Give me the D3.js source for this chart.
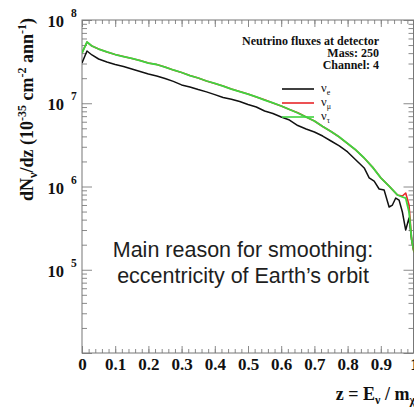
<!DOCTYPE html>
<html>
<head>
<meta charset="utf-8">
<script src="https://cdn.jsdelivr.net/npm/d3@7/dist/d3.min.js"></script>
<style>
  body { margin: 0; background: #fff; }
  svg { display: block; }
  .serif { font-family: "Liberation Serif", "DejaVu Serif", serif; font-weight: bold; fill: #111; }
</style>
</head>
<body>
<svg id="chart" width="414" height="408"></svg>
<script>
// nu_e (black)
const zNuE = [0, 0.015, 0.03, 0.05, 0.075, 0.1, 0.125, 0.15, 0.175, 0.2, 0.225, 0.25, 0.275, 0.3,
  0.325, 0.35, 0.375, 0.4, 0.425, 0.45, 0.475, 0.5, 0.525, 0.55, 0.575, 0.6, 0.625, 0.65, 0.675,
  0.7, 0.725, 0.75, 0.775, 0.8, 0.825, 0.85, 0.865, 0.88, 0.895, 0.91, 0.925, 0.935, 0.945, 0.955,
  0.965, 0.975, 0.985, 0.993, 1.0]
const fluxNuE = [3.04e7, 4.24e7, 3.80e7, 3.40e7, 3.13e7, 2.92e7, 2.76e7, 2.58e7, 2.41e7, 2.25e7,
  2.12e7, 1.98e7, 1.83e7, 1.66e7, 1.57e7, 1.46e7, 1.37e7, 1.27e7, 1.17e7, 1.12e7, 1.05e7, 9.66e6,
  9.02e6, 8.07e6, 7.53e6, 6.83e6, 6.29e6, 5.40e6, 4.91e6, 4.52e6, 4.04e6, 3.52e6, 3.07e6, 2.60e6,
  2.08e6, 1.67e6, 1.27e6, 1.16e6, 9.33e5, 9.08e5, 5.67e5, 5.99e5, 7.27e5, 6.88e5, 4.94e5, 3.00e5,
  4.18e5, 2.28e5, 1.63e5]

// nu_mu (red) and nu_tau (green) share the same z points
const zNuMuTau = [0, 0.015, 0.03, 0.05, 0.075, 0.1, 0.125, 0.15, 0.175, 0.2, 0.225, 0.25, 0.275,
  0.3, 0.325, 0.35, 0.375, 0.4, 0.425, 0.45, 0.475, 0.5, 0.525, 0.55, 0.575, 0.6, 0.625, 0.65,
  0.675, 0.7, 0.725, 0.75, 0.775, 0.8, 0.825, 0.85, 0.875, 0.9, 0.925, 0.95, 0.965, 0.975, 0.985,
  0.993, 1.0]
const fluxNuMu = [4.01e7, 5.44e7, 4.87e7, 4.48e7, 4.13e7, 3.85e7, 3.64e7, 3.45e7, 3.26e7, 3.04e7,
  2.92e7, 2.72e7, 2.51e7, 2.34e7, 2.15e7, 2.01e7, 1.85e7, 1.73e7, 1.61e7, 1.48e7, 1.38e7, 1.29e7,
  1.19e7, 1.10e7, 1.01e7, 9.27e6, 8.41e6, 7.70e6, 6.83e6, 6.12e6, 5.26e6, 4.58e6, 3.93e6, 3.28e6,
  2.74e6, 2.20e6, 1.71e6, 1.27e6, 1.01e6, 7.91e5, 7.69e5, 8.35e5, 5.99e5, 2.28e5, 1.63e5]
const fluxNuTau = [4.01e7, 5.44e7, 4.87e7, 4.48e7, 4.13e7, 3.85e7, 3.64e7, 3.45e7, 3.26e7, 3.04e7,
  2.92e7, 2.72e7, 2.51e7, 2.34e7, 2.15e7, 2.01e7, 1.85e7, 1.73e7, 1.61e7, 1.48e7, 1.38e7, 1.29e7,
  1.19e7, 1.09e7, 1.01e7, 9.27e6, 8.41e6, 7.64e6, 6.83e6, 6.12e6, 5.26e6, 4.58e6, 3.93e6, 3.28e6,
  2.74e6, 2.20e6, 1.71e6, 1.27e6, 1.01e6, 7.91e5, 7.48e5, 7.27e5, 4.94e5, 2.28e5, 1.63e5]

const xTicks = [0, 0.1, 0.2, 0.3, 0.4, 0.5, 0.6, 0.7, 0.8, 0.9, 1]
const yLabelExps = [5, 6, 7, 8]
const legendItems = [
  {label: "e", color: "#111"},
  {label: "μ", color: "#e8262a"},
  {label: "τ", color: "#3fd43f"}
]
const legendTitle = ["Neutrino fluxes at detector", "Mass: 250", "Channel: 4"]
const note = ["Main reason for smoothing:", "eccentricity of Earth\u2019s orbit"]

const svg = d3.select("#chart")
const mLeft = 82, mRight = 413.5, mTop = 20, mBottom = 353

const x = d3.scaleLinear().domain([0, 1]).range([mLeft, 414])
const y = d3.scaleLog().domain([1e4, 1e8]).range([mBottom, mTop])

// clip
svg.append("clipPath").attr("id", "plot")
  .append("rect").attr("x", mLeft).attr("y", mTop)
  .attr("width", mRight - mLeft).attr("height", mBottom - mTop)

// axes with inward ticks
const minorX = d3.range(0, 1.0001, 0.02)
const tickColor = "#8a8a8a"

function styleAxis(g) {
  g.select(".domain").remove()
  g.selectAll(".tick line").attr("stroke", tickColor)
}

svg.append("g").attr("transform", `translate(0,${mBottom})`)
  .call(d3.axisBottom(x).tickValues(minorX).tickSize(-4).tickFormat(""))
  .call(styleAxis)
svg.append("g").attr("transform", `translate(0,${mTop})`)
  .call(d3.axisTop(x).tickValues(minorX).tickSize(-4).tickFormat(""))
  .call(styleAxis)
svg.append("g").attr("transform", `translate(0,${mTop})`)
  .call(d3.axisTop(x).tickValues(xTicks).tickSize(-7).tickFormat(""))
  .call(styleAxis)

const xAxis = svg.append("g").attr("transform", `translate(0,${mBottom})`)
  .call(d3.axisBottom(x).tickValues(xTicks).tickSize(-7).tickPadding(5)
    .tickFormat(d => d === 0 || d === 1 ? String(d) : d.toFixed(1)))
  .call(styleAxis)
xAxis.selectAll(".tick text")
  .attr("class", "serif").attr("font-size", 17).attr("fill", "#111")

const yTicksAll = y.ticks()
const isMajor = d => Math.abs(Math.log10(d) - Math.round(Math.log10(d))) < 1e-9

svg.append("g").attr("transform", `translate(${mLeft},0)`)
  .call(d3.axisLeft(y).tickValues(yTicksAll).tickSize(-5).tickFormat(""))
  .call(styleAxis)
  .selectAll(".tick line").attr("x2", d => isMajor(d) ? 10 : 5)
svg.append("g").attr("transform", `translate(${mRight},0)`)
  .call(d3.axisRight(y).tickValues(yTicksAll).tickSize(-5).tickFormat(""))
  .call(styleAxis)
  .selectAll(".tick line").attr("x2", d => isMajor(d) ? -10 : -5)

// frame
svg.append("rect")
  .attr("x", mLeft).attr("y", mTop)
  .attr("width", mRight - mLeft).attr("height", mBottom - mTop)
  .attr("fill", "none").attr("stroke", "#777").attr("stroke-width", 1)

// y labels 10^n
svg.append("g").selectAll("text").data(yLabelExps).enter().append("text")
  .attr("class", "serif")
  .attr("x", 64).attr("y", d => y(Math.pow(10, d)) + 7)
  .attr("text-anchor", "end").attr("font-size", 16.5)
  .text("10")
svg.append("g").selectAll("text").data(yLabelExps).enter().append("text")
  .attr("class", "serif")
  .attr("x", 71).attr("y", d => y(Math.pow(10, d)) - 3)
  .attr("font-size", 11.5)
  .text(d => d)

// curves
const line = d3.line().x(d => x(d[0])).y(d => y(d[1]))
const plot = svg.append("g").attr("clip-path", "url(#plot)")
const series = [
  {z: zNuE, v: fluxNuE, color: legendItems[0].color, w: 1.5},
  {z: zNuMuTau, v: fluxNuMu, color: legendItems[1].color, w: 1.6},
  {z: zNuMuTau, v: fluxNuTau, color: legendItems[2].color, w: 1.8}
]
plot.selectAll("path").data(series).enter().append("path")
  .attr("d", s => line(d3.zip(s.z, s.v)))
  .attr("fill", "none")
  .attr("stroke", s => s.color)
  .attr("stroke-width", s => s.w)
  .attr("stroke-linejoin", "round")

// legend
svg.append("g").selectAll("text").data(legendTitle).enter().append("text")
  .attr("class", "serif")
  .attr("x", 379).attr("y", (d, i) => 45 + i * 12)
  .attr("text-anchor", "end").attr("font-size", 12)
  .text(d => d)

const leg = svg.append("g").selectAll("g").data(legendItems).enter().append("g")
  .attr("transform", (d, i) => `translate(0,${89 + i * 14})`)
leg.append("line")
  .attr("x1", 282).attr("x2", 314)
  .attr("stroke", d => d.color).attr("stroke-width", 1.6)
const legText = leg.append("text")
  .attr("x", 321).attr("y", 3)
  .attr("font-family", "Liberation Serif, serif").attr("font-size", 12.5).attr("fill", "#111")
legText.append("tspan").text("ν")
legText.append("tspan").attr("dy", 3).attr("font-size", 8).text(d => d.label)

// note
svg.append("g").selectAll("text").data(note).enter().append("text")
  .attr("x", 243).attr("y", (d, i) => 257 + i * 26)
  .attr("text-anchor", "middle")
  .attr("font-family", "Liberation Sans, Arial, sans-serif")
  .attr("font-size", 21.5).attr("fill", "#1e1e1e")
  .text(d => d)

// x title
const xt = svg.append("text").attr("class", "serif")
  .attr("x", 415).attr("y", 400).attr("text-anchor", "end").attr("font-size", 18)
xt.append("tspan").text("z = E")
xt.append("tspan").attr("dy", 4).attr("font-size", 12).text("ν")
xt.append("tspan").attr("dy", -4).text(" / m")
xt.append("tspan").attr("dy", 4).attr("font-size", 12).text("χ")

// y title
const yt = svg.append("text").attr("class", "serif")
  .attr("transform", "translate(33,18) rotate(-90)")
  .attr("text-anchor", "end").attr("font-size", 18)
yt.append("tspan").text("dN")
yt.append("tspan").attr("dy", 4).attr("font-size", 12).text("ν")
yt.append("tspan").attr("dy", -4).text("/dz (10")
yt.append("tspan").attr("dy", -7).attr("font-size", 12).text("-35")
yt.append("tspan").attr("dy", 7).text(" cm")
yt.append("tspan").attr("dy", -7).attr("font-size", 12).text("-2")
yt.append("tspan").attr("dy", 7).text(" ann")
yt.append("tspan").attr("dy", -7).attr("font-size", 12).text("-1")
yt.append("tspan").attr("dy", 7).text(")")
</script>
</body>
</html>
